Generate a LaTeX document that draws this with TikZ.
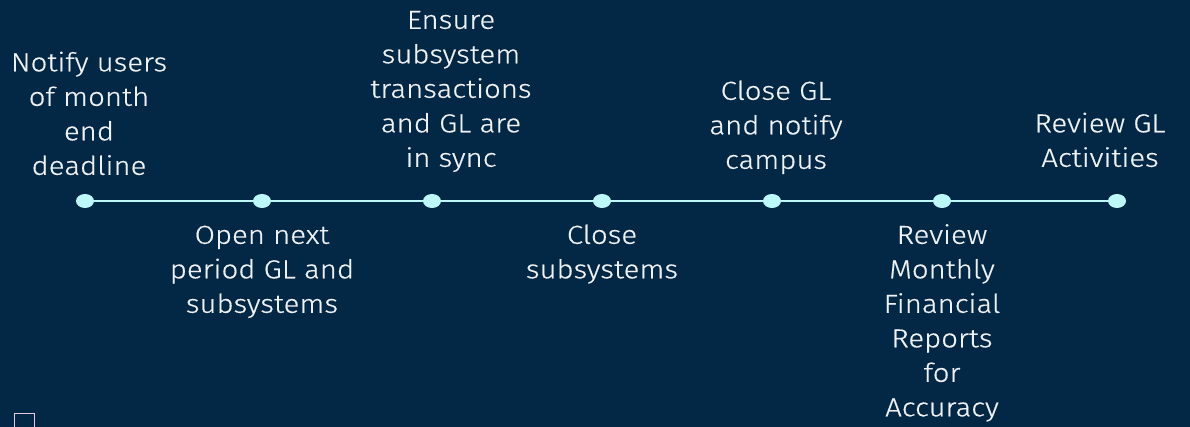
\documentclass[tikz,border=0pt]{standalone}
\usepackage{fontspec}
\setmainfont{Fira Sans Light}[FakeStretch=1.13,FakeBold=0.5]
\definecolor{bgnavy}{HTML}{022845}
\definecolor{dotcyan}{HTML}{BDF8F8}
\definecolor{txtwhite}{HTML}{EEF2F4}
\definecolor{boxpink}{HTML}{E8C8DC}
\tikzset{
  px/.style={x=1pt,y=-1pt},
  milestone/.style={ellipse, fill=dotcyan, minimum width=18pt, minimum height=14pt, inner sep=0pt},
  label/.style={anchor=south, align=center, text=txtwhite, text depth=0pt,
    font=\fontsize{26}{34.5}\selectfont, inner sep=0pt}
}
\usetikzlibrary{shapes.geometric}
\begin{document}
\begin{tikzpicture}[px]
  \fill[bgnavy] (0,0) rectangle (1190,427);
  \useasboundingbox (0,0) rectangle (1190,427);
  % timeline dots
  \foreach \i/\x in {1/85,2/262,3/432,4/602,5/772,6/942,7/1117}
    \node[milestone] (m\i) at (\x,201) {};
  \draw[dotcyan, line width=1.6pt] (m1) -- (m2) -- (m3) -- (m4) -- (m5) -- (m6) -- (m7);
  % labels above the line (placed by the baseline of their last line)
  \node[label] (t1) at (89,175) {Notify users\\of month\\end\\deadline};
  \node[label] (t3) at (451,167) {Ensure\\subsystem\\transactions\\and GL are\\in sync};
  \node[label] (t5) at (776,169) {Close GL\\and notify\\campus};
  \node[label] (t7) at (1100,167) {Review GL\\Activities};
  % labels below the line
  \node[label] (b2) at (262,313) {Open next\\period GL and\\subsystems};
  \node[label] (b4) at (602,278.5) {Close\\subsystems};
  \node[label] (b6) at (942,416.5) {Review\\Monthly\\Financial\\Reports\\for\\Accuracy};
  % small empty box in the corner
  \draw[boxpink, line width=1pt] (14.5,413.5) rectangle (34.5,430);
\end{tikzpicture}
\end{document}
